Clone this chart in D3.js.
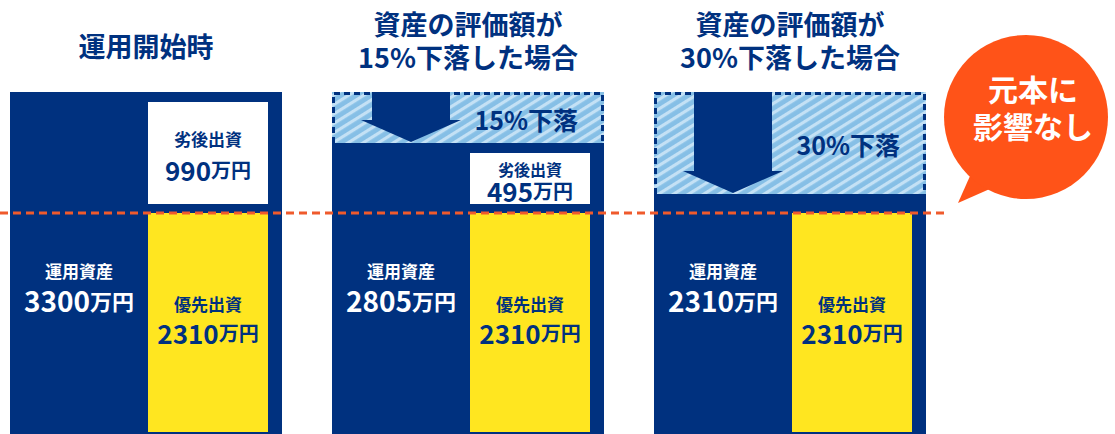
<!DOCTYPE html>
<html>
<head>
<meta charset="utf-8">
<script src="https://cdn.jsdelivr.net/npm/d3@7.9.0/dist/d3.min.js"></script>
<style>
  html, body { margin: 0; padding: 0; background: #fff; }
  svg { display: block; font-family: "Noto Sans CJK JP", "Noto Sans", sans-serif; font-weight: 700; }
</style>
</head>
<body>
<svg id="chart" width="1115" height="434"></svg>
<script>
// scenarios (one panel each)
const titles = [
  ['運用開始時'],
  ['資産の評価額が', '15%下落した場合'],
  ['資産の評価額が', '30%下落した場合']
];
const dropLabels = ['', '15%下落', '30%下落'];
const totalAssets = [3300, 2805, 2310];   // 運用資産 (万円)
const seniorInvest = [2310, 2310, 2310];  // 優先出資
const subordInvest = [990, 495, 0];       // 劣後出資
const dropAmount = [0, 495, 990];         // 評価額の下落分
const bubbleLines = ['元本に', '影響なし'];

const navy = '#00317f';
const yellow = '#ffe620';
const orange = '#ff5318';

const svg = d3.select('#chart');

const x = d3.scaleBand()
  .domain(d3.range(titles.length))
  .range([10, 926])
  .paddingInner(50 / 322)
  .paddingOuter(0);

// senior part sits on the bottom, the red line marks its top
const ySen = d3.scaleLinear().domain([0, 2310]).range([432, 213]);
// heights of the subordinate box / dropped part
const h = d3.scaleLinear().domain([0, 990]).range([0, 102]);

const topY = 92;
const lineY = ySen(2310);

// hatch pattern
const defs = svg.append('defs');
const pat = defs.append('pattern')
  .attr('id', 'hatch')
  .attr('patternUnits', 'userSpaceOnUse')
  .attr('width', 8).attr('height', 8)
  .attr('patternTransform', 'rotate(-32)');
pat.append('rect').attr('width', 8).attr('height', 8).attr('fill', '#86bfe6');
pat.append('rect').attr('y', 0).attr('width', 8).attr('height', 3.2).attr('fill', '#c4e1f5');

function money(sel, val, big, small) {
  sel.append('tspan').attr('font-size', big).text(val);
  sel.append('tspan').attr('font-size', small).text('万円');
}

titles.forEach((lines, i) => {
  const x0 = x(i), w = x.bandwidth(), cx = x0 + w / 2;
  const g = svg.append('g');

  // title
  const ty = lines.length === 1 ? [45] : [23, 56];
  lines.forEach((t, j) => {
    g.append('text')
      .attr('x', cx).attr('y', ty[j])
      .attr('text-anchor', 'middle')
      .attr('dominant-baseline', 'central')
      .attr('font-size', 27)
      .attr('fill', navy)
      .text(t);
  });

  const hatchBottom = topY + h(dropAmount[i]);

  // navy body
  g.append('rect')
    .attr('x', x0).attr('y', hatchBottom)
    .attr('width', w).attr('height', 440 - hatchBottom)
    .attr('fill', navy);

  // dropped part
  if (dropAmount[i] > 0) {
    g.append('rect')
      .attr('x', x0).attr('y', topY)
      .attr('width', w).attr('height', hatchBottom - topY)
      .attr('fill', 'url(#hatch)');
    g.append('path')
      .attr('d', `M${x0 + 1.5},${hatchBottom}V${topY + 1.5}H${x0 + w - 1.5}V${hatchBottom}`)
      .attr('fill', 'none')
      .attr('stroke', navy)
      .attr('stroke-width', 3)
      .attr('stroke-dasharray', '6 4');

    // down arrow
    const ax = x0 + 79, tip = hatchBottom - 1, head = 22;
    g.append('path')
      .attr('d', `M${ax - 39},${topY}H${ax + 39}V${tip - head}H${ax + 50}L${ax},${tip}L${ax - 50},${tip - head}H${ax - 39}Z`)
      .attr('fill', navy);

    g.append('text')
      .attr('x', x0 + w - 26).attr('y', (topY + hatchBottom) / 2 + 1)
      .attr('text-anchor', 'end')
      .attr('dominant-baseline', 'central')
      .attr('font-size', 25)
      .attr('fill', navy)
      .text(dropLabels[i]);
  }

  const rx = x0 + 138, rw = w - 14 - 138, rcx = rx + rw / 2;

  // subordinate box
  if (subordInvest[i] > 0) {
    const bBottom = lineY - 9, bTop = bBottom - h(subordInvest[i]);
    g.append('rect')
      .attr('x', rx).attr('y', bTop)
      .attr('width', rw).attr('height', bBottom - bTop)
      .attr('fill', '#fff');
    const mid = (bTop + bBottom) / 2;
    const big = subordInvest[i] > 600;
    g.append('text')
      .attr('x', rcx).attr('y', mid - (big ? 15 : 10))
      .attr('text-anchor', 'middle').attr('dominant-baseline', 'central')
      .attr('font-size', big ? 17 : 16).attr('fill', navy)
      .text('劣後出資');
    g.append('text')
      .attr('x', rcx).attr('y', mid + (big ? 16 : 11))
      .attr('text-anchor', 'middle').attr('dominant-baseline', 'central')
      .attr('fill', navy)
      .call(money, subordInvest[i], 26, 20);
  }

  // senior
  g.append('rect')
    .attr('x', rx).attr('y', ySen(seniorInvest[i]))
    .attr('width', rw).attr('height', ySen(0) - ySen(seniorInvest[i]))
    .attr('fill', yellow);
  g.append('text')
    .attr('x', rcx).attr('y', 303)
    .attr('text-anchor', 'middle').attr('dominant-baseline', 'central')
    .attr('font-size', 17).attr('fill', navy)
    .text('優先出資');
  g.append('text')
    .attr('x', rcx).attr('y', 332)
    .attr('text-anchor', 'middle').attr('dominant-baseline', 'central')
    .attr('fill', navy)
    .call(money, seniorInvest[i], 26, 20);

  // total assets
  const lcx = (x0 + rx) / 2;
  g.append('text')
    .attr('x', lcx).attr('y', 270)
    .attr('text-anchor', 'middle').attr('dominant-baseline', 'central')
    .attr('font-size', 17).attr('fill', '#fff')
    .text('運用資産');
  g.append('text')
    .attr('x', lcx).attr('y', 300)
    .attr('text-anchor', 'middle').attr('dominant-baseline', 'central')
    .attr('fill', '#fff')
    .call(money, totalAssets[i], 28, 22);
});

// red dashed line at the senior level
svg.append('line')
  .attr('x1', 0).attr('x2', 944)
  .attr('y1', lineY).attr('y2', lineY)
  .attr('stroke', '#ef5a2c')
  .attr('stroke-width', 3)
  .attr('stroke-dasharray', '8 5');

// speech bubble
const bx = 1026, by = 117, br = 82;
svg.append('path')
  .attr('d', `M970,176L958,203L992,188Z`)
  .attr('fill', orange);
svg.append('circle')
  .attr('cx', bx).attr('cy', by).attr('r', br)
  .attr('fill', orange);
bubbleLines.forEach((t, j) => {
  svg.append('text')
    .attr('x', 1033).attr('y', 88 + j * 37)
    .attr('text-anchor', 'middle').attr('dominant-baseline', 'central')
    .attr('font-size', 30).attr('fill', '#fff')
    .text(t);
});
</script>
</body>
</html>
